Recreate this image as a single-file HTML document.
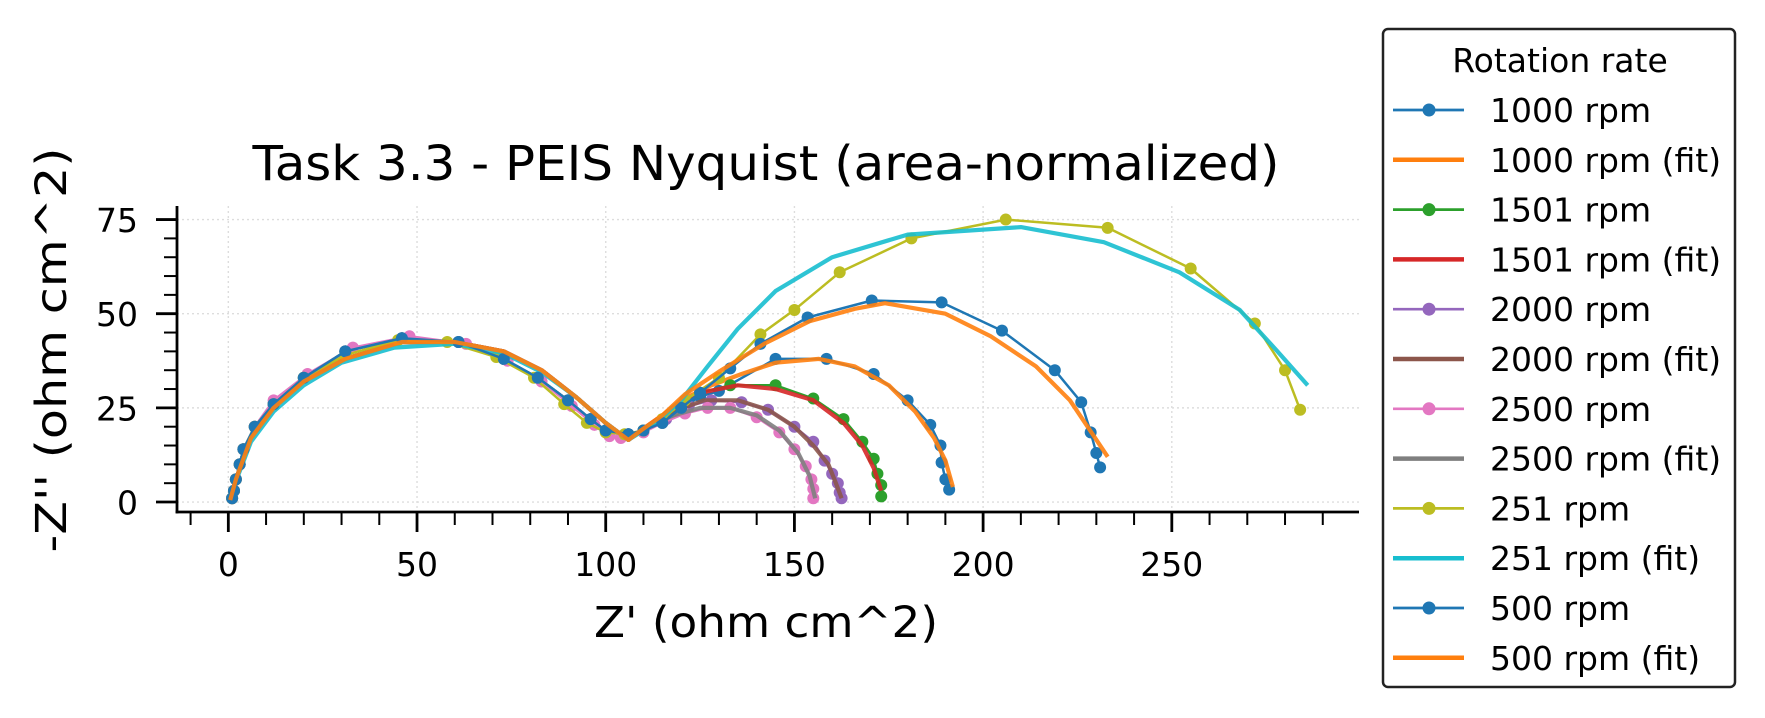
<!DOCTYPE html>
<html><head><meta charset="utf-8">
<style>
html,body{margin:0;padding:0;background:#fff;}
svg{display:block;font-family:"DejaVu Sans","Liberation Sans",sans-serif;}
</style></head>
<body>
<svg id="chart" width="1765" height="718" viewBox="0 0 1765 718">
<text x="766" y="180" text-anchor="middle" font-size="48" textLength="1027" lengthAdjust="spacingAndGlyphs">Task 3.3 - PEIS Nyquist (area-normalized)</text>
<g id="grid"></g>
<g id="series"></g>
<g id="axes"></g>
<text x="766" y="637" text-anchor="middle" font-size="43" textLength="344" lengthAdjust="spacingAndGlyphs">Z' (ohm cm^2)</text>
<text transform="translate(66,350) rotate(-90)" text-anchor="middle" font-size="43" textLength="405" lengthAdjust="spacingAndGlyphs">-Z'' (ohm cm^2)</text>
<g id="legend">
<rect x="1383" y="29" width="352" height="658" rx="5" fill="#fff" stroke="#222" stroke-width="2.5"/>
<text x="1560" y="72" text-anchor="middle" font-size="33">Rotation rate</text>
</g>
</svg>
<script>
const xTicks=[0,50,100,150,200,250];
const yTicks=[0,25,50,75];
const seriesNames=["1000 rpm","1000 rpm (fit)","1501 rpm","1501 rpm (fit)","2000 rpm","2000 rpm (fit)","2500 rpm","2500 rpm (fit)","251 rpm","251 rpm (fit)","500 rpm","500 rpm (fit)"];
const s1000x=[1,1.5,2,3,4,7,12,20,31,46,61,73,82,90,96,100,106,110,115,120,125,130,145,158.5,171,180,186,188.7,189,190,191];
const s1000y=[1,3,6,10,14,20,26,33,40,43.5,42.5,38,33,27,22,19,18,19,21,25,28,29.5,38,38,34,27,20.5,15,10.5,6,3.3];
const f1000x=[0.5,2,6,12,20,31,46,60,73,83,92,100,106,110,115,120,128,136,145,156.5,166,175,182,187,190,192];
const f1000y=[0.5,6,17,25,32,38,42.5,42.5,40,35,28,21,16.5,19.5,23,27,31,34,37,38,36,31,24,17,11,4];
const s1501x=[1,1.5,2,3,4,7,12,20,31,46,61,73,82,90,96,100,106,110,115,118,125,133,145,155,163,168,171,172,173,173];
const s1501y=[1,3,6,10,14,20,26,33,40,43.5,42.5,38,33,27,22,19,18,19,21,24,29,31,31,27.5,22,16,11.5,7.5,4.5,1.5];
const f1501x=[0.5,2,6,12,20,31,46,60,73,83,92,100,106,110,115,118,125,135,145,155,163,168,171,173];
const f1501y=[0.5,6,17,25,32,38,42.5,42.5,40,35,28,21,16.5,19.5,23,25,29,31,30,27,21,15,9,3];
const s2000x=[1,1.5,2,3,4,7,12,20,31,46,61,73,82,90,96,100,106,110,116,122,128,136,143,150,155,158,160,161.5,162,162.5];
const s2000y=[1,3,6,10,14,20,26,33,40,43.5,42.5,38,33,27,22,19,18,19,22,25.5,27,26.5,24.5,20,16,11,7.5,5,2.5,1];
const f2000x=[0.5,2,6,12,20,31,46,60,73,83,92,100,106,110,114,118,126,135,143,150,155,159,161,162.5];
const f2000y=[0.5,6,17,25,32,38,42.5,42.5,40,35,28,21,16.5,19.5,22,24,27,27,24.5,20,15,10,5,1];
const s2500x=[1,1.5,2,3,4,7,12,21,33,48,63,74,83,91,97,101,104,110,115,121,127,133,140,146,150,153,154.5,155,155];
const s2500y=[1,3,6,10,14,20,27,34,41,44,42,37.5,32,25.5,20.5,17.5,17,18.5,21,23.5,25,25,22.5,18.5,14,9.5,6,3.5,1];
const f2500x=[0.5,2,6,12,20,31,46,60,73,83,92,100,106,110,114,118,125,133,140,146,151,154,155.5];
const f2500y=[0.5,6,17,25,32,38,42.5,42.5,40,35,28,21,16.5,19.5,21.5,23,25,25,23,19,13,7,1];
const s251x=[1,1.5,2,3,4,7,12,20,31,45,58,71,81,89,95,100,105,110,115,121,130,141,150,162,181,206,233,255,272,280,284];
const s251y=[1,3,6,10,14,20,26,33,39,43,42.5,38.5,33,26,21,18.5,18,19,22,27,33,44.5,51,61,70,75,72.8,62,47.4,35,24.5];
const f251x=[0.5,2,6,12,20,30,44,60,73,83,92,100,106,110,115,120,127,135,145,160,180,210,232,252,268,278,286];
const f251y=[0.5,5.5,16,24,31,37,41,42,39.5,34.5,28,21,16.5,19,22.5,27,36,46,56,65,71,73,69,61,51,40,31];
const s500x=[1,1.5,2,3,4,7,12,20,31,46,61,73,82,90,96,100,106,110,115,120,125,133,141,153.5,170.5,189,205,219,226,228.5,230,231];
const s500y=[1,3,6,10,14,20,26,33,40,43.5,42.5,38,33,27,22,19,18,19,21,25,29,35.5,42,49,53.5,53,45.5,35,26.5,18.5,13,9.2];
const f500x=[0.5,2,6,12,20,31,46,60,73,83,92,100,106,110,115,121,130,142,154,166,174,190,202,214,223,229,233];
const f500y=[0.5,6,17,25,32,38,42.5,42.5,40,35,28,21,16.5,19.5,23,28.6,34.6,42,48,51.3,52.8,50,44,36,27,18,12];

const NS="http://www.w3.org/2000/svg";
const X0=177,X1=1359,Y0=512,Y1=206;
const xmin=-13.6,xmax=299.6,ymin=-2.65,ymax=78.6;
function sx(v){return X0+(v-xmin)/(xmax-xmin)*(X1-X0);}
function sy(v){return Y0-(v-ymin)/(ymax-ymin)*(Y0-Y1);}
function mk(tag,attrs,parent){const e=document.createElementNS(NS,tag);for(const k in attrs)e.setAttribute(k,attrs[k]);parent.appendChild(e);return e;}
const grid=document.getElementById('grid'),axes=document.getElementById('axes'),ser=document.getElementById('series'),leg=document.getElementById('legend');
xTicks.forEach(t=>{
  const g=mk('line',{x1:sx(t),x2:sx(t),y1:Y1,y2:Y0,stroke:'#ddd','stroke-width':1.4,'stroke-dasharray':'2,3'},grid);
  
  
  const tk=mk('line',{x1:sx(t),x2:sx(t),y1:Y0,y2:Y0+20,stroke:'#000','stroke-width':2.8},axes);
  
  
  const lb=mk('text',{x:sx(t),y:576,'text-anchor':'middle','font-size':33},axes);
  lb.textContent=t;
  
  
});
for(let v=-10;v<=290;v+=10){if(v%50===0)continue;
  const m=mk('line',{x1:sx(v),x2:sx(v),y1:Y0,y2:Y0+13,stroke:'#000','stroke-width':2},axes);
  
  }
yTicks.forEach(t=>{
  const g=mk('line',{x1:X0,x2:X1,y1:sy(t),y2:sy(t),stroke:'#ddd','stroke-width':1.4,'stroke-dasharray':'2,3'},grid);
  
  
  const tk=mk('line',{x1:X0-21,x2:X0,y1:sy(t),y2:sy(t),stroke:'#000','stroke-width':2.8},axes);
  
  
  const lb=mk('text',{x:138,y:sy(t)+12.5,'text-anchor':'end','font-size':33},axes);
  lb.textContent=t;
  
  
});
for(let v=0;v<=75;v+=5){if(v%25===0)continue;
  const m=mk('line',{x1:X0-13,x2:X0,y1:sy(v),y2:sy(v),stroke:'#000','stroke-width':2},axes);
  
  }
const sp1=mk('line',{x1:X0,x2:X0,y1:Y1,y2:Y0+1.4,stroke:'#000','stroke-width':2.8},axes);


const sp2=mk('line',{x1:X0-1.4,x2:X1,y1:Y0,y2:Y0,stroke:'#000','stroke-width':2.8},axes);



const allSeries=[[s1000x,s1000y,'#1f77b4',false],[f1000x,f1000y,'#ff7f0e',true],[s1501x,s1501y,'#2ca02c',false],[f1501x,f1501y,'#d62728',true],[s2000x,s2000y,'#9467bd',false],[f2000x,f2000y,'#8c564b',true],[s2500x,s2500y,'#e377c2',false],[f2500x,f2500y,'#7f7f7f',true],[s251x,s251y,'#bcbd22',false],[f251x,f251y,'#17becf',true],[s500x,s500y,'#1f77b4',false],[f500x,f500y,'#ff7f0e',true]];
allSeries.forEach((s,i)=>{
  const [xs,ys,c,fit]=s;
  const g=mk('g',{},ser);
  
  
  const pts=xs.map((x,j)=>sx(x).toFixed(1)+','+sy(ys[j]).toFixed(1)).join(' ');
  const pl=mk('polyline',{points:pts,fill:'none',stroke:c,'stroke-width':fit?4.2:2.5,'stroke-linejoin':'round',opacity:fit?0.9:1},g);
  
  
  if(!fit){xs.forEach((x,j)=>{
    const p=mk('circle',{cx:sx(x),cy:sy(ys[j]),r:6,fill:c},g);
    
    
  });}
  const ly=110+i*49.8;
  const lg=mk('g',{},leg);
  
  
  mk('line',{x1:1393,x2:1464,y1:ly,y2:ly,stroke:c,'stroke-width':fit?4.5:2.7},lg);
  if(!fit)mk('circle',{cx:1429,cy:ly,r:6.5,fill:c},lg);
  const t=mk('text',{x:1490,y:ly+12,'font-size':33},lg);
  t.textContent=seriesNames[i];
});
</script>
</body></html>
